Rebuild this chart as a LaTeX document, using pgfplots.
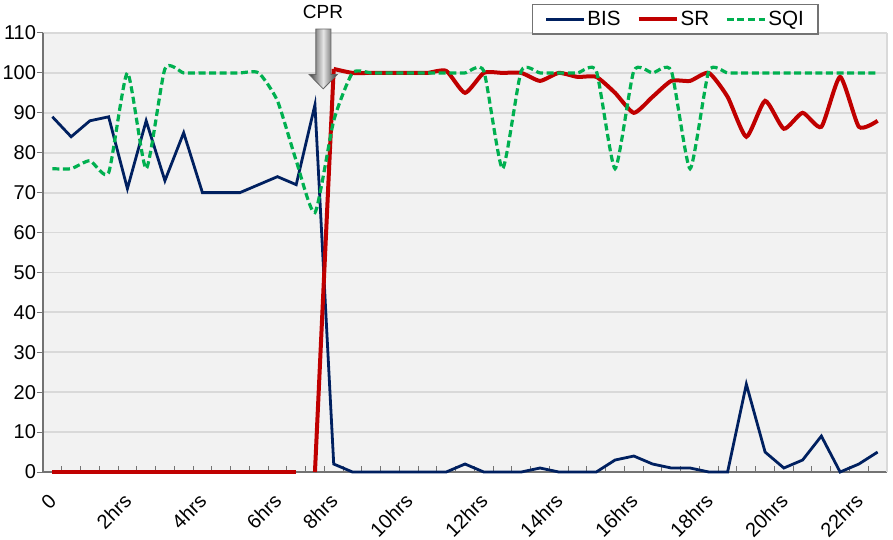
\documentclass[border=0pt]{standalone}
\usepackage{fontspec}
\setmainfont{Liberation Sans}
\usepackage{pgfplots}
\pgfplotsset{compat=1.18}

\definecolor{bisblue}{RGB}{0,32,96}
\definecolor{srred}{RGB}{192,0,0}
\definecolor{sqigreen}{RGB}{0,176,80}

\begin{document}
\begin{tikzpicture}
\begin{axis}[
    at={(21.5pt,34pt)}, anchor=south west,
    scale only axis,
    width=422pt, height=219.5pt,
    xmin=-0.5, xmax=44.5,
    ymin=0, ymax=110,
    clip=false,
    axis x line*=bottom,
    axis y line*=left,
    axis line style={draw=black!55, line width=0.7pt},
    axis background/.style={fill=gray!10},
    ytick={0,10,...,110},
    ymajorgrids=true,
    grid style={draw=gray!30, line width=0.9pt},
    tick align=inside,
    major tick length=2.8pt,
    xtick={-0.5,0.5,...,44.5},
    xticklabels={},
    x tick style={draw=black!55, line width=0.5pt},
    y tick style={draw=black!55, line width=0.5pt, xshift=-2.8pt},
    extra x ticks={0,4,8,12,15,19,23,27,31,35,39,43},
    extra x tick labels={0,2hrs,4hrs,6hrs,8hrs,10hrs,12hrs,14hrs,16hrs,18hrs,20hrs,22hrs},
    extra x tick style={major tick length=0pt, grid=none},
    x tick label style={xshift=2.6pt, yshift=-10.4pt, rotate=45, anchor=east},
    tick label style={font=\fontsize{10}{12}\selectfont},
    /pgf/number format/assume math mode=true,
    legend columns=3,
    legend image code/.code={\draw[#1] (0pt,0pt) -- (19pt,0pt);},
    legend style={at={(0.5794,1.066)}, anchor=north west,
      draw=black!55, line width=0.6pt, fill=white,
      font=\fontsize{10.3}{12}\selectfont,
      inner xsep=6pt, inner ysep=2pt,
      nodes={inner sep=1pt},
      /tikz/every even column/.append style={column sep=7pt}},
  ]
  % plot area border on the right
  \draw[gray!30, line width=0.9pt] (rel axis cs:1,0) -- (rel axis cs:1,1);

  % BIS
  \addplot[color=bisblue, line width=1.4pt, sharp plot] coordinates {
    (0,89)(1,84)(2,88)(3,89)(4,71)(5,88)(6,73)(7,85)(8,70)(9,70)
    (10,70)(11,72)(12,74)(13,72)(14,92)(15,2)(16,0)(17,0)(18,0)(19,0)
    (20,0)(21,0)(22,2)(23,0)(24,0)(25,0)(26,1)(27,0)(28,0)(29,0)
    (30,3)(31,4)(32,2)(33,1)(34,1)(35,0)(36,0)(37,22)(38,5)(39,1)
    (40,3)(41,9)(42,0)(43,2)(44,5)};
  \addlegendentry{BIS}

  % SR: flat part, jump at CPR, then smoothed
  \addplot[color=srred, line width=2pt, sharp plot, forget plot] coordinates {
    (0,0)(1,0)(2,0)(3,0)(4,0)(5,0)(6,0)(7,0)(8,0)(9,0)(10,0)(11,0)(12,0)(13,0)};
  \addplot[color=srred, line width=2pt, sharp plot, forget plot] coordinates {
    (14,0)(15,101)};
  \addplot[color=srred, line width=2pt, smooth, tension=0.35] coordinates {
    (15,101)(16,100)(17,100)(18,100)(19,100)(20,100)(21,100.5)(22,95)(23,100)(24,100)
    (25,100)(26,98)(27,100)(28,99)(29,99)(30,95)(31,90)(32,94)(33,98)(34,98)
    (35,100)(36,94)(37,84)(38,93)(39,86)(40,90)(41,86.5)(42,99)(43,86.5)(44,88)};
  \addlegendentry{SR}

  % SQI
  \addplot[color=sqigreen, line width=1.6pt, dash pattern=on 3.5pt off 1.8pt, smooth, tension=0.35] coordinates {
    (0,76)(1,76)(2,78)(3,75)(4,100)(5,76)(6,101)(7,100)(8,100)(9,100)
    (10,100)(11,100)(12,93)(13,78)(14,65)(15,88)(16,100)(17,100)(18,100)(19,100)
    (20,100)(21,100)(22,100)(23,100.5)(24,76)(25,100.5)(26,100)(27,100)(28,100)(29,100.5)
    (30,76)(31,100.5)(32,100)(33,100.5)(34,76)(35,100.5)(36,100)(37,100)(38,100)(39,100)
    (40,100)(41,100)(42,100)(43,100)(44,100)};
  \addlegendentry{SQI}

  % CPR marker
  \shade[left color=black!75, right color=black!80, middle color=black!10, draw=black!60, line width=0.4pt]
    (axis cs:14.05,111) -- (axis cs:14.85,111) -- (axis cs:14.85,99.6)
    -- (axis cs:15.19,99.6) -- (axis cs:14.44,96) -- (axis cs:13.69,99.6)
    -- (axis cs:14.05,99.6) -- cycle;
  \node[font=\fontsize{9.5}{11}\selectfont] at (axis cs:14.43,115.2) {CPR};
\end{axis}
\pgfresetboundingbox
\path (0,0) rectangle (446.5pt,270pt);
\end{tikzpicture}
\end{document}
